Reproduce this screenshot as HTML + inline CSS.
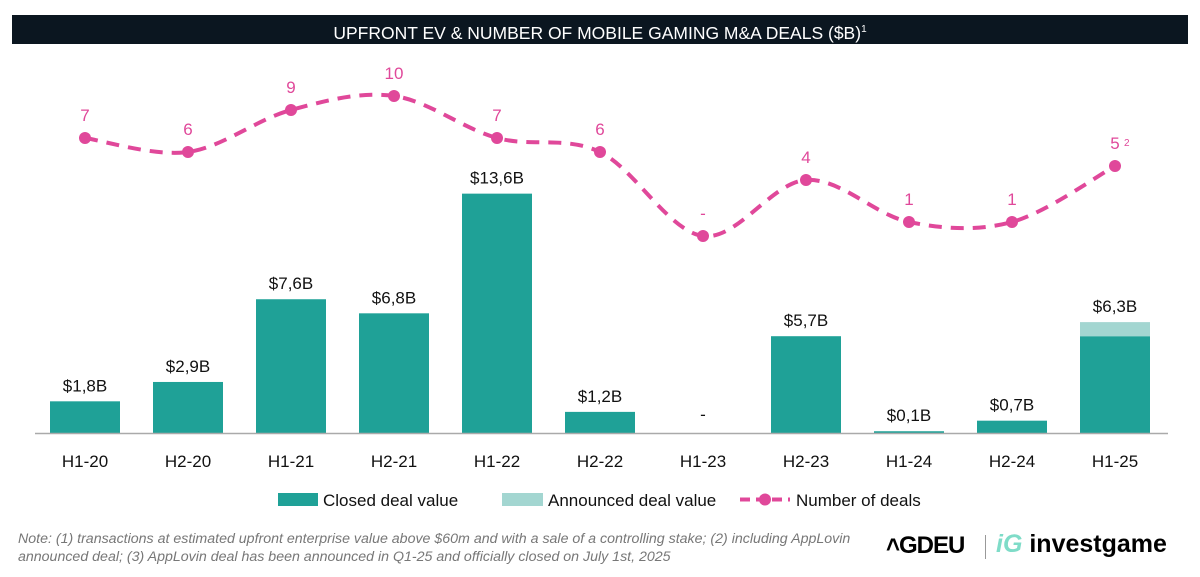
<!DOCTYPE html>
<html><head><meta charset="utf-8"><style>
body{margin:0;width:1200px;height:577px;background:#fff;font-family:"Liberation Sans",sans-serif;overflow:hidden;position:relative}
.title{position:absolute;left:12px;top:15px;width:1176px;height:29px;background:#0b1620;color:#fff;font-size:17.5px;line-height:29px;text-align:center}
.note{position:absolute;left:18px;top:530px;font-size:14.2px;font-style:italic;color:#777;line-height:18px}
</style></head><body>
<div class="title">UPFRONT EV &amp; NUMBER OF MOBILE GAMING M&amp;A DEALS ($B)<sup style="font-size:10px">1</sup></div>
<svg id="chart" width="1200" height="577" style="position:absolute;left:0;top:0"></svg>
<div class="note">Note: (1) transactions at estimated upfront enterprise value above $60m and with a sale of a controlling stake; (2) including AppLovin<br>announced deal; (3) AppLovin deal has been announced in Q1-25 and officially closed on July 1st, 2025</div>
<div style="position:absolute;left:886px;top:532px;font-size:24px;font-weight:bold;letter-spacing:-1px">˄GDEU</div>
<div style="position:absolute;left:985px;top:535px;width:1px;height:24px;background:#999"></div>
<div style="position:absolute;left:996px;top:530px;font-size:25px;font-weight:bold"><span style="color:#7fdcc8;font-style:italic">iG</span> investgame</div>
<script>
const categories=["H1-20","H2-20","H1-21","H2-21","H1-22","H2-22","H1-23","H2-23","H1-24","H2-24","H1-25"];
const closedValues=[1.8,2.9,7.6,6.8,13.6,1.2,0,5.5,0.1,0.7,5.5];
const announcedValues=[0,0,0,0,0,0,0,0,0,0,0.8];
const valueLabels=["$1,8B","$2,9B","$7,6B","$6,8B","$13,6B","$1,2B","-","$5,7B","$0,1B","$0,7B","$6,3B"];
const dealCounts=[7,6,9,10,7,6,0,4,1,1,5];
const dealLabels=["7","6","9","10","7","6","-","4","1","1","5"];
const NS="http://www.w3.org/2000/svg";
const svg=document.getElementById('chart');
const xAt=i=>85+103*i;
const yV=v=>433-17.6*v;
const yD=v=>236-14*v;
function mk(t,a,txt){const e=document.createElementNS(NS,t);for(const k in a)e.setAttribute(k,a[k]);if(txt!=null)e.textContent=txt;svg.appendChild(e);return e;}
categories.forEach((c,i)=>{
 const x=xAt(i),w=70;
 const tot=closedValues[i]+announcedValues[i];
 if(closedValues[i]>0){const r=mk('rect',{x:x-w/2,y:yV(closedValues[i]),width:w,height:433-yV(closedValues[i]),fill:'#1fa197'});
 
 }
 if(announcedValues[i]>0){const r=mk('rect',{x:x-w/2,y:yV(tot),width:w,height:yV(closedValues[i])-yV(tot),fill:'#a3d6d1'});
 
 }
 const l=mk('text',{x:x,y:(tot>0?yV(tot)-10:420),'text-anchor':'middle','font-size':'17','fill':'#111'},valueLabels[i]);
 
 
 const t=mk('text',{x:x,y:467,'text-anchor':'middle','font-size':'17','fill':'#111'},c);
 
 
});
const ax=mk('line',{x1:35,y1:433.5,x2:1168,y2:433.5,stroke:'#aaa','stroke-width':1.5});


const pts=dealCounts.map((v,i)=>[xAt(i),yD(v)]);
let d='M'+pts[0][0]+','+pts[0][1];
for(let i=0;i<pts.length-1;i++){const p0=pts[Math.max(i-1,0)],p1=pts[i],p2=pts[i+1],p3=pts[Math.min(i+2,pts.length-1)];
 const c1=[p1[0]+(p2[0]-p0[0])/6,p1[1]+(p2[1]-p0[1])/6],c2=[p2[0]-(p3[0]-p1[0])/6,p2[1]-(p3[1]-p1[1])/6];
 d+=` C${c1[0]},${c1[1]} ${c2[0]},${c2[1]} ${p2[0]},${p2[1]}`;}
const ln=mk('path',{d:d,fill:'none',stroke:'#e0489a','stroke-width':4,'stroke-dasharray':'13 9'});


pts.forEach((p,i)=>{
 const c=mk('circle',{cx:p[0],cy:p[1],r:6,fill:'#e0489a'});
 
 
 const t=mk('text',{x:p[0],y:p[1]-17,'text-anchor':'middle','font-size':'17','fill':'#e0489a'},dealLabels[i]);
 
 
});
const sup=mk('text',{x:1124,y:146,'font-size':'10','fill':'#e0489a'},'2');


const l1=mk('rect',{x:278,y:493,width:40,height:13,fill:'#1fa197'});


const l1t=mk('text',{x:323,y:506,'font-size':'17','fill':'#111'},'Closed deal value');


const l2=mk('rect',{x:502,y:493,width:41,height:13,fill:'#a3d6d1'});


const l2t=mk('text',{x:548,y:506,'font-size':'17','fill':'#111'},'Announced deal value');


const l3=mk('line',{x1:740,y1:499.5,x2:790,y2:499.5,stroke:'#e0489a','stroke-width':4,'stroke-dasharray':'10 6'});


const l3c=mk('circle',{cx:765,cy:499.5,r:6,fill:'#e0489a'});


const l3t=mk('text',{x:796,y:506,'font-size':'17','fill':'#111'},'Number of deals');


</script>
</body></html>
